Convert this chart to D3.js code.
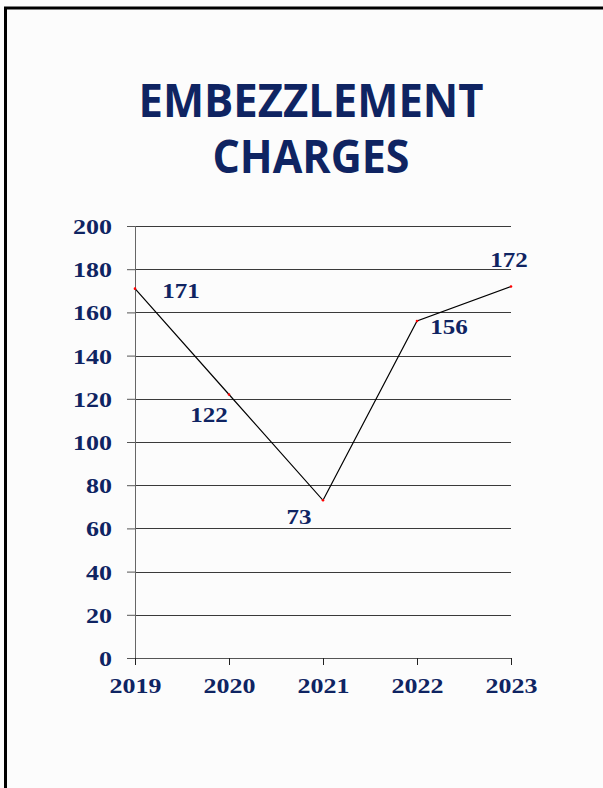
<!DOCTYPE html>
<html>
<head>
<meta charset="utf-8">
<script src="https://cdn.jsdelivr.net/npm/d3@7"></script>
<style>
  body { margin: 0; background: #fcfcfc; }
  svg { display: block; }
</style>
</head>
<body>
<div id="chart"></div>
<script>
// data
var years = ["2019", "2020", "2021", "2022", "2023"];
var charges = [171, 122, 73, 156, 172];
var yTicks = [0, 20, 40, 60, 80, 100, 120, 140, 160, 180, 200];
var titleLines = ["EMBEZZLEMENT", "CHARGES"];

// label placement relative to each point (dx, dy of baseline centre)
var labelOffsets = [[46, 9], [-20, 28], [-24, 24], [32, 13], [-2, -19]];

var W = 603, H = 788;
var margin = { top: 226, left: 135, right: 92, bottom: 130 };
var width = W - margin.left - margin.right,
  height = 658 - margin.top;

var navy = "#0f2462";
var serif = "'Liberation Serif', 'Times New Roman', serif";

var svg = d3.select("#chart").append("svg")
  .attr("width", W)
  .attr("height", H);

svg.append("rect")
  .attr("width", W).attr("height", H)
  .attr("fill", "#fcfcfc");

// frame (only left and top visible)
svg.append("rect")
  .attr("x", 5.5).attr("y", 8)
  .attr("width", W + 20).attr("height", H + 20)
  .attr("fill", "none")
  .attr("stroke", "#000")
  .attr("stroke-width", 3);

// title
var titleWidths = [345, 197];
svg.selectAll(".title")
  .data(titleLines)
  .enter().append("text")
  .attr("class", "title")
  .attr("x", 311)
  .attr("y", function (d, i) { return 117 + i * 56; })
  .attr("text-anchor", "middle")
  .attr("textLength", function (d, i) { return titleWidths[i]; })
  .attr("lengthAdjust", "spacingAndGlyphs")
  .style("font-family", "'Open Sans', 'DejaVu Sans', sans-serif")
  .style("font-weight", "bold")
  .style("font-size", "46px")
  .style("fill", navy)
  .text(function (d) { return d; });

var g = svg.append("g")
  .attr("transform", "translate(" + margin.left + "," + margin.top + ")");

var x = d3.scalePoint()
  .domain(years)
  .range([0, width]);

var y = d3.scaleLinear()
  .domain([0, 200])
  .range([height, 0]);

// gridlines
g.append("g")
  .attr("class", "grid")
  .selectAll("line")
  .data(yTicks.slice(1))
  .enter().append("line")
  .attr("x1", 0).attr("x2", width)
  .attr("y1", function (d) { return Math.round(y(d)) + 0.5; })
  .attr("y2", function (d) { return Math.round(y(d)) + 0.5; })
  .attr("stroke", "#3a3a3a")
  .attr("stroke-width", 1);

// y axis
var yAxis = d3.axisLeft(y)
  .tickValues(yTicks)
  .tickSize(8)
  .tickPadding(15);

var yg = g.append("g")
  .attr("class", "y axis")
  .call(yAxis);
yg.select(".domain").attr("stroke", "#666").attr("d", "M0.5,0V" + (height + 7));
yg.selectAll(".tick line").attr("stroke", "#555");
yg.selectAll(".tick text")
  .attr("dy", "0.34em")
  .attr("textLength", function (d) { return String(d).length * 13; })
  .attr("lengthAdjust", "spacingAndGlyphs")
  .style("font-family", serif)
  .style("font-weight", "bold")
  .style("font-size", "22px")
  .style("fill", navy);

// x axis
var xAxis = d3.axisBottom(x)
  .tickSize(7)
  .tickPadding(12);

var xg = g.append("g")
  .attr("class", "x axis")
  .attr("transform", "translate(0," + height + ")")
  .call(xAxis);
xg.select(".domain").attr("stroke", "#555").attr("d", "M-8,0.5H" + width);
xg.selectAll(".tick line").attr("stroke", "#222");
xg.selectAll(".tick text")
  .attr("dy", "0.71em")
  .attr("textLength", function (d) { return d.length * 13; })
  .attr("lengthAdjust", "spacingAndGlyphs")
  .style("font-family", serif)
  .style("font-weight", "bold")
  .style("font-size", "22px")
  .style("fill", navy);

// line
var line = d3.line()
  .x(function (d, i) { return x(years[i]); })
  .y(function (d) { return y(d); });

g.append("path")
  .datum(charges)
  .attr("fill", "none")
  .attr("stroke", "#000")
  .attr("stroke-width", 1.2)
  .attr("d", line);

// markers
g.selectAll(".dot")
  .data(charges)
  .enter().append("circle")
  .attr("class", "dot")
  .attr("r", 1.3)
  .attr("cx", function (d, i) { return x(years[i]); })
  .attr("cy", function (d) { return y(d); })
  .style("fill", "red");

// data labels
g.selectAll(".label")
  .data(charges)
  .enter().append("text")
  .attr("class", "label")
  .attr("x", function (d, i) { return x(years[i]) + labelOffsets[i][0]; })
  .attr("y", function (d, i) { return y(d) + labelOffsets[i][1]; })
  .attr("text-anchor", "middle")
  .attr("textLength", function (d) { return String(d).length * 12.5; })
  .attr("lengthAdjust", "spacingAndGlyphs")
  .style("font-family", serif)
  .style("font-weight", "bold")
  .style("font-size", "22px")
  .style("fill", navy)
  .text(function (d) { return d; });
</script>
</body>
</html>
